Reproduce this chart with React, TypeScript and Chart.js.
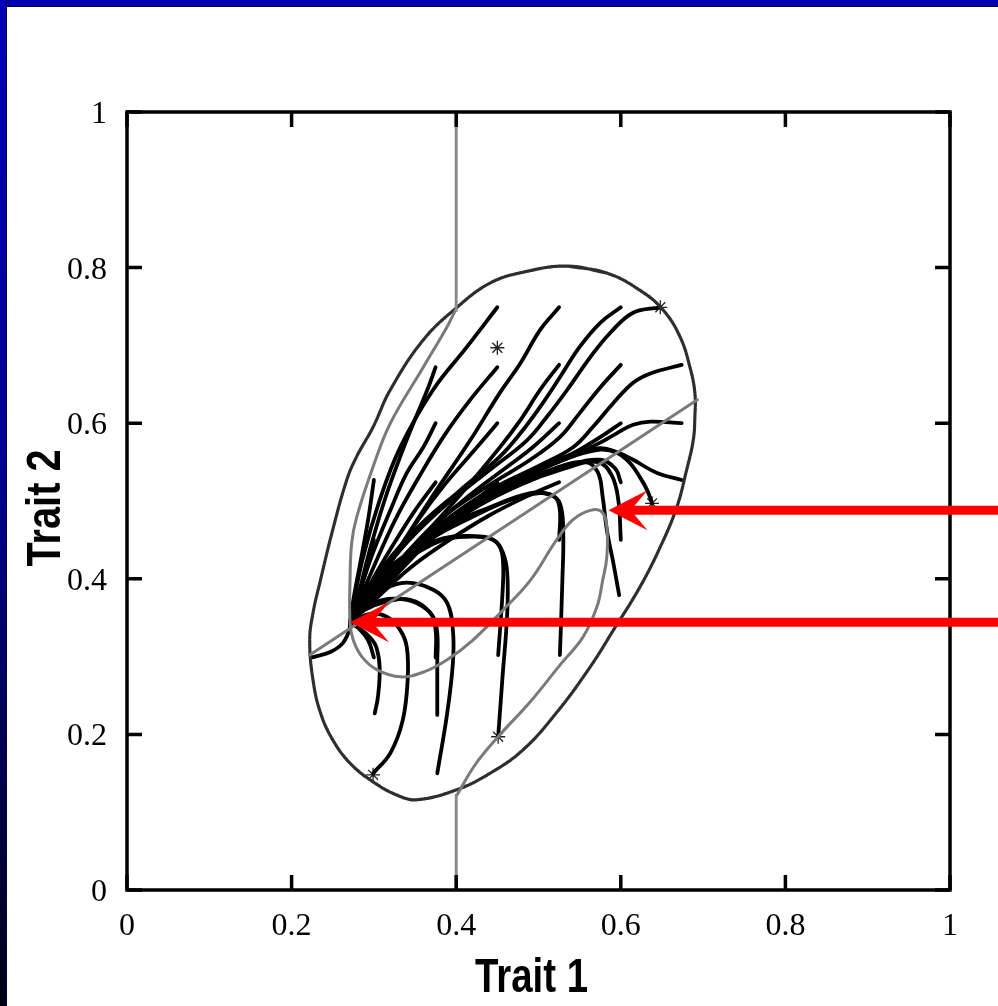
import { useEffect, useRef } from 'react';
import { Chart, registerables } from 'chart.js';

Chart.register(...registerables);

type P = [number, number];

// ---------- axis ticks and titles ----------
const X_TICKS = [0, 0.2, 0.4, 0.6, 0.8, 1];
const X_TICK_LABELS = ['0', '0.2', '0.4', '0.6', '0.8', '1'];
const Y_TICKS = [0, 0.2, 0.4, 0.6, 0.8, 1];
const Y_TICK_LABELS = ['0', '0.2', '0.4', '0.6', '0.8', '1'];
const X_TITLE = 'Trait 1';
const Y_TITLE = 'Trait 2';

// ---------- equilibria (arrow targets) ----------
const EQ_LOW: P = [0.271, 0.344];
const EQ_HIGH: P = [0.585, 0.488];
const ARROW_TARGETS: P[] = [EQ_HIGH, EQ_LOW];

// ---------- boundary ellipse ----------
const BOUNDARY_ELLIPSE: P[] = [
  [0.535, 0.802], [0.583, 0.793], [0.623, 0.771], [0.651, 0.746], [0.672, 0.711],
  [0.684, 0.672], [0.690, 0.639], [0.690, 0.608], [0.688, 0.578], [0.680, 0.540],
  [0.668, 0.492], [0.648, 0.441], [0.623, 0.389], [0.591, 0.334], [0.563, 0.287],
  [0.522, 0.228], [0.481, 0.180], [0.441, 0.150], [0.401, 0.129], [0.352, 0.116],
  [0.328, 0.122], [0.299, 0.139], [0.271, 0.163], [0.250, 0.193], [0.235, 0.228],
  [0.226, 0.270], [0.222, 0.321], [0.226, 0.356], [0.235, 0.398], [0.250, 0.463],
  [0.267, 0.527], [0.279, 0.557], [0.299, 0.595], [0.320, 0.643], [0.360, 0.707],
  [0.401, 0.749], [0.441, 0.780], [0.481, 0.794], [0.535, 0.802], [0.583, 0.793],
];

// ---------- gray isoclines ----------
const ISOCLINE_STRAIGHT: P[] = [[0.222, 0.302], [0.693, 0.630]];
const ISOCLINE_VERTICAL_TOP: P[] = [[0.4, 1], [0.4, 0.745]];
const ISOCLINE_VERTICAL_BOTTOM: P[] = [[0.4, 0.122], [0.4, 0]];
const ISOCLINE_CURVED: P[] = [
  [0.399, 0.745], [0.389, 0.724], [0.360, 0.672], [0.320, 0.600], [0.299, 0.544],
  [0.279, 0.479], [0.273, 0.446], [0.271, 0.398], [0.271, 0.344], [0.275, 0.321],
  [0.286, 0.299], [0.304, 0.283], [0.332, 0.274], [0.360, 0.280], [0.389, 0.296],
  [0.420, 0.321], [0.457, 0.360], [0.490, 0.398], [0.522, 0.450], [0.542, 0.476],
  [0.563, 0.488], [0.577, 0.486], [0.583, 0.467], [0.583, 0.428], [0.578, 0.398],
  [0.571, 0.364], [0.554, 0.325], [0.526, 0.289], [0.490, 0.242], [0.451, 0.197],
  [0.423, 0.161], [0.401, 0.122],
];

// ---------- trajectories from the upper initial conditions ----------
const FAN_TRAJECTORIES: P[][] = [
  [[0.375, 0.672], [0.365, 0.643], [0.348, 0.600], [0.332, 0.557], [0.313, 0.501], [0.295, 0.437], [0.281, 0.379], EQ_LOW],
  [[0.375, 0.600], [0.360, 0.569], [0.340, 0.536], [0.320, 0.488], [0.298, 0.431], [0.281, 0.377], EQ_LOW],
  [[0.450, 0.749], [0.413, 0.698], [0.372, 0.643], [0.332, 0.569], [0.307, 0.501], [0.286, 0.424], EQ_LOW],
  [[0.450, 0.672], [0.417, 0.630], [0.386, 0.585], [0.356, 0.533], [0.326, 0.476], [0.298, 0.411], EQ_LOW],
  [[0.450, 0.600], [0.417, 0.559], [0.386, 0.521], [0.354, 0.476], [0.322, 0.424], [0.293, 0.375], EQ_LOW],
  [[0.450, 0.524], [0.417, 0.495], [0.380, 0.463], [0.344, 0.424], [0.307, 0.383], EQ_LOW],
  [[0.525, 0.749], [0.502, 0.720], [0.478, 0.677], [0.453, 0.639], [0.417, 0.578], [0.368, 0.501], [0.326, 0.431], [0.293, 0.375], EQ_LOW],
  [[0.525, 0.675], [0.502, 0.643], [0.478, 0.604], [0.453, 0.569], [0.405, 0.508], [0.356, 0.450], [0.313, 0.396], EQ_LOW],
  [[0.525, 0.600], [0.493, 0.569], [0.462, 0.544], [0.417, 0.508], [0.368, 0.463], [0.326, 0.411], [0.289, 0.366], EQ_LOW],
  [[0.525, 0.524], [0.490, 0.508], [0.441, 0.482], [0.392, 0.450], [0.344, 0.414], [0.301, 0.373], EQ_LOW],
  [[0.600, 0.749], [0.575, 0.729], [0.550, 0.698], [0.526, 0.659], [0.502, 0.621], [0.478, 0.587], [0.453, 0.557], [0.405, 0.514], [0.356, 0.469], [0.313, 0.418], [0.286, 0.373], EQ_LOW],
  [[0.600, 0.675], [0.575, 0.646], [0.550, 0.613], [0.526, 0.582], [0.490, 0.553], [0.441, 0.521], [0.380, 0.476], [0.332, 0.424], [0.293, 0.375], EQ_LOW],
  [[0.600, 0.600], [0.575, 0.582], [0.550, 0.566], [0.526, 0.553], [0.478, 0.530], [0.417, 0.495], [0.356, 0.450], [0.307, 0.392], EQ_LOW],
  [[0.600, 0.524], [0.593, 0.542], [0.575, 0.553], [0.538, 0.546], [0.490, 0.527], [0.429, 0.495], [0.368, 0.450], [0.313, 0.392], EQ_LOW],
  [[0.600, 0.450], [0.597, 0.501], [0.589, 0.533], [0.572, 0.550], [0.532, 0.542], [0.478, 0.521], [0.417, 0.488], [0.356, 0.443], [0.307, 0.388], EQ_LOW],
  [[0.598, 0.379], [0.591, 0.420], [0.583, 0.463], [0.578, 0.505], [0.572, 0.537], [0.557, 0.550], [0.520, 0.542], [0.471, 0.521], [0.411, 0.486], [0.350, 0.440], [0.305, 0.386], EQ_LOW],
  [[0.674, 0.675], [0.636, 0.664], [0.615, 0.652], [0.591, 0.626], [0.566, 0.595], [0.542, 0.569], [0.502, 0.546], [0.441, 0.514], [0.380, 0.469], [0.326, 0.414], [0.289, 0.370], EQ_LOW],
  [[0.674, 0.600], [0.636, 0.602], [0.615, 0.598], [0.595, 0.587], [0.575, 0.575], [0.544, 0.559], [0.502, 0.540], [0.441, 0.508], [0.380, 0.465], [0.326, 0.411], [0.289, 0.369], EQ_LOW],
  [[0.674, 0.527], [0.644, 0.536], [0.615, 0.553], [0.595, 0.563], [0.575, 0.568], [0.538, 0.559], [0.490, 0.537], [0.429, 0.504], [0.368, 0.456], [0.320, 0.405], [0.286, 0.366], EQ_LOW],
  [[0.638, 0.497], [0.632, 0.514], [0.623, 0.531], [0.611, 0.549], [0.595, 0.562], [0.575, 0.566], [0.538, 0.556], [0.490, 0.534], [0.429, 0.501], [0.368, 0.454], [0.320, 0.403], [0.286, 0.365], EQ_LOW],
  [[0.648, 0.749], [0.615, 0.742], [0.587, 0.716], [0.563, 0.685], [0.535, 0.643], [0.510, 0.608], [0.486, 0.578], [0.441, 0.540], [0.380, 0.488], [0.332, 0.437], [0.295, 0.383], EQ_LOW],
  [[0.300, 0.527], [0.293, 0.476], [0.283, 0.418], [0.275, 0.373], EQ_LOW],
  [[0.300, 0.450], [0.289, 0.405], [0.278, 0.369], EQ_LOW],
  [[0.375, 0.524], [0.350, 0.488], [0.323, 0.443], [0.298, 0.398], EQ_LOW],
];

// ---------- trajectories from the lower initial conditions ----------
const ARCH_TRAJECTORIES: P[][] = [
  [[0.301, 0.227], [0.305, 0.249], [0.307, 0.286], [0.303, 0.312], [0.295, 0.325], [0.283, 0.336], EQ_LOW],
  [[0.299, 0.150], [0.320, 0.176], [0.335, 0.218], [0.341, 0.270], [0.340, 0.312], [0.332, 0.334], [0.316, 0.351], [0.295, 0.355], EQ_LOW],
  [[0.377, 0.150], [0.389, 0.227], [0.396, 0.292], [0.396, 0.334], [0.389, 0.369], [0.372, 0.386], [0.340, 0.395], [0.311, 0.386], [0.287, 0.369], EQ_LOW],
  [[0.377, 0.225], [0.377, 0.292], [0.377, 0.330], [0.372, 0.351], [0.360, 0.364], [0.340, 0.373], [0.311, 0.373], [0.287, 0.360], EQ_LOW],
  [[0.375, 0.299], [0.375, 0.334], [0.368, 0.357], [0.344, 0.373], [0.313, 0.370], [0.289, 0.360], EQ_LOW],
  [[0.451, 0.302], [0.456, 0.377], [0.457, 0.420], [0.453, 0.441], [0.441, 0.452], [0.413, 0.454], [0.384, 0.450], [0.352, 0.433], [0.320, 0.411], [0.292, 0.386], EQ_LOW],
  [[0.451, 0.197], [0.456, 0.270], [0.462, 0.356], [0.462, 0.408], [0.457, 0.433], [0.445, 0.450], [0.417, 0.455], [0.384, 0.452], [0.350, 0.437], [0.317, 0.414], [0.290, 0.386], EQ_LOW],
  [[0.526, 0.302], [0.529, 0.398], [0.530, 0.463], [0.526, 0.497], [0.514, 0.508], [0.490, 0.510], [0.441, 0.492], [0.392, 0.469], [0.344, 0.431], [0.307, 0.392], EQ_LOW],
  [[0.525, 0.450], [0.526, 0.488], [0.520, 0.505], [0.502, 0.510], [0.465, 0.501], [0.417, 0.478], [0.368, 0.450], [0.326, 0.411], [0.292, 0.373], EQ_LOW],
  [[0.225, 0.299], [0.247, 0.306], [0.262, 0.317], [0.270, 0.334], EQ_LOW],
  [[0.300, 0.299], [0.293, 0.321], [0.281, 0.337], EQ_LOW],
  [[0.300, 0.375], [0.283, 0.357], EQ_LOW],
];

// ---------- star markers ----------
const STAR_MARKERS: P[] = [
  [0.450, 0.697], [0.648, 0.749], [0.638, 0.497], [0.451, 0.197], [0.299, 0.148],
];

const decorPlugin = {
  id: 'decor',
  afterDraw(chart: any) {
    const { ctx, chartArea: a, scales } = chart;
    const xs = scales.x;
    const ys = scales.y;
    ctx.save();
    // frame
    ctx.strokeStyle = '#000';
    ctx.lineWidth = 3.5;
    ctx.lineCap = 'butt';
    ctx.strokeRect(a.left, a.top, a.right - a.left, a.bottom - a.top);
    // inward ticks on all four sides
    const TL = 15;
    ctx.lineWidth = 3.5;
    ctx.beginPath();
    X_TICKS.forEach((v) => {
      const px = xs.getPixelForValue(v);
      ctx.moveTo(px, a.bottom);
      ctx.lineTo(px, a.bottom - TL);
      ctx.moveTo(px, a.top);
      ctx.lineTo(px, a.top + TL);
    });
    Y_TICKS.forEach((v) => {
      const py = ys.getPixelForValue(v);
      ctx.moveTo(a.left, py);
      ctx.lineTo(a.left + TL, py);
      ctx.moveTo(a.right, py);
      ctx.lineTo(a.right - TL, py);
    });
    ctx.stroke();

    // tick labels
    ctx.fillStyle = '#000';
    ctx.font = '32px "Liberation Serif", "Times New Roman", serif';
    ctx.textBaseline = 'alphabetic';
    ctx.textAlign = 'right';
    Y_TICKS.forEach((v, i) => {
      const py = ys.getPixelForValue(v);
      ctx.fillText(Y_TICK_LABELS[i], a.left - 20, py + 11);
    });
    ctx.textAlign = 'center';
    X_TICKS.forEach((v, i) => {
      const px = xs.getPixelForValue(v);
      ctx.fillText(X_TICK_LABELS[i], px, a.bottom + 45);
    });

    // axis titles (condensed bold sans)
    ctx.font = 'bold 48px "Liberation Sans Narrow", "Liberation Sans", Arial, sans-serif';
    ctx.textAlign = 'center';
    const w1 = ctx.measureText(X_TITLE).width;
    ctx.save();
    ctx.translate((a.left + a.right) / 2 - 7, a.bottom + 102);
    ctx.scale(113 / w1, 1);
    ctx.fillText(X_TITLE, 0, 0);
    ctx.restore();
    const w2 = ctx.measureText(Y_TITLE).width;
    ctx.save();
    ctx.translate(60, (a.top + a.bottom) / 2 + 7);
    ctx.rotate(-Math.PI / 2);
    ctx.scale(117 / w2, 1);
    ctx.fillText(Y_TITLE, 0, 0);
    ctx.restore();

    // red arrows pointing at the equilibria
    ctx.fillStyle = '#ff0000';
    const W = chart.width;
    ARROW_TARGETS.forEach(([ex, ey]) => {
      const tx = xs.getPixelForValue(ex);
      const ty = ys.getPixelForValue(ey);
      const headLen = 39;
      const headHalf = 20;
      const notch = 26;
      const shaft = 4.5;
      ctx.beginPath();
      ctx.moveTo(tx, ty);
      ctx.lineTo(tx + headLen, ty - headHalf);
      ctx.lineTo(tx + notch, ty - shaft);
      ctx.lineTo(W, ty - shaft);
      ctx.lineTo(W, ty + shaft);
      ctx.lineTo(tx + notch, ty + shaft);
      ctx.lineTo(tx + headLen, ty + headHalf);
      ctx.closePath();
      ctx.fill();
    });
    ctx.restore();
  },
};

export default function App() {
  const ref = useRef<HTMLCanvasElement>(null);

  useEffect(() => {
    const canvas = ref.current;
    if (!canvas) return;
    const toXY = (pts: P[]) => pts.map(([x, y]) => ({ x, y }));
    const lineDs = (pts: P[], color: string, width: number, dash: number[] = [], tension = 0.4) => ({
      data: toXY(pts),
      showLine: true,
      borderColor: color,
      backgroundColor: color,
      borderWidth: width,
      borderDash: dash,
      pointRadius: 0,
      pointHoverRadius: 0,
      tension,
      fill: false,
      borderCapStyle: 'round',
      borderJoinStyle: 'round',
    });

    const datasets: any[] = [
      lineDs(ISOCLINE_VERTICAL_TOP, '#8a8a8a', 3, [3, 1], 0),
      lineDs(ISOCLINE_VERTICAL_BOTTOM, '#8a8a8a', 3, [3, 1], 0),
      lineDs(ISOCLINE_STRAIGHT, '#7a7a7a', 3, [], 0),
      lineDs(ISOCLINE_CURVED, '#7a7a7a', 3),
      lineDs(BOUNDARY_ELLIPSE, '#2e2e2e', 3.2, [2.5, 1]),
      ...FAN_TRAJECTORIES.map((t) => lineDs(t, '#000', 3.8)),
      ...ARCH_TRAJECTORIES.map((t) => lineDs(t, '#000', 3.8)),
      {
        data: toXY(STAR_MARKERS),
        showLine: false,
        pointStyle: 'star',
        pointRadius: 7,
        pointHoverRadius: 7,
        borderColor: '#222',
        backgroundColor: '#222',
        pointBorderWidth: 1.3,
      },
    ];

    const chart = new Chart(canvas, {
      type: 'scatter',
      data: { datasets },
      options: {
        responsive: false,
        animation: false,
        devicePixelRatio: 1,
        events: [],
        layout: { padding: { left: 127, right: 48, top: 112, bottom: 116 } },
        plugins: { legend: { display: false }, tooltip: { enabled: false } },
        scales: {
          x: { type: 'linear', min: 0, max: 1, display: false },
          y: { type: 'linear', min: 0, max: 1, display: false },
        },
      } as any,
      plugins: [decorPlugin],
    });
    return () => chart.destroy();
  }, []);

  return (
    <div style={{ position: 'absolute', left: 0, top: 0, width: 998, height: 1006, background: '#fff', overflow: 'hidden' }}>
      <canvas ref={ref} width={998} height={1006} style={{ position: 'absolute', left: 0, top: 0, width: 998, height: 1006 }} />
      <div style={{ position: 'absolute', left: 0, top: 0, width: 998, height: 6, background: '#0000b4', borderBottom: '1px solid #000044' }} />
      <div style={{ position: 'absolute', left: 0, top: 0, width: 6, height: 1006, background: 'linear-gradient(#0000b8, #000094 45%, #000018)', borderRight: '1px solid #000030' }} />
    </div>
  );
}
